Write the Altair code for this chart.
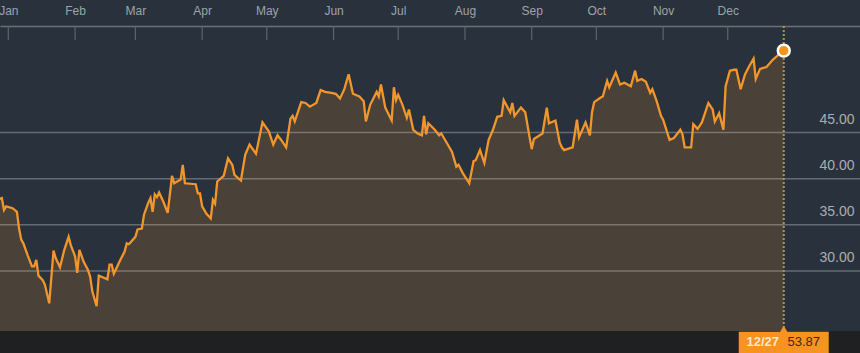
import altair as alt
import pandas as pd

# ---- data (day offset from 2019-01-01, closing value) ----
days = [-4, -3, -2, -1, 2, 4, 5, 6, 7, 9, 11, 12, 13, 14, 16, 17, 19, 21, 22, 24,
        26, 28, 29, 31, 32, 33, 35, 37, 38, 39, 41, 42, 43, 46, 47, 48, 49, 52, 54, 55,
        56, 59, 60, 62, 63, 65, 66, 67, 68, 69, 70, 72, 74, 76, 77, 80, 81, 82, 87, 88,
        89, 90, 92, 94, 95, 96, 97, 100, 102, 104, 105, 108, 110, 112, 115, 118, 121, 123, 125, 127,
        129, 131, 132, 133, 136, 138, 140, 143, 145, 147, 150, 152, 154, 156, 158, 160, 163, 165, 166, 168,
        171, 172, 173, 175, 178, 179, 180, 181, 183, 185, 186, 188, 190, 192, 193, 194, 195, 198, 200, 201,
        204, 206, 208, 209, 211, 214, 216, 217, 219, 221, 223, 225, 227, 229, 230, 233, 234, 235, 238, 240,
        242, 243, 244, 248, 250, 251, 254, 256, 257, 258, 262, 264, 265, 268, 270, 271, 272, 275, 276, 278,
        279, 282, 284, 286, 289, 291, 292, 294, 296, 298, 299, 301, 303, 304, 307, 309, 312, 313, 314, 317,
        318, 320, 322, 325, 327, 328, 330, 332, 333, 335, 337, 338, 340, 342, 344, 346, 347, 349, 352, 355,
        357, 360]
values = [37.8, 37.9, 36.6, 37.0, 36.8, 36.4, 34.6, 33.4, 33.0, 31.7, 30.5, 30.5, 31.2, 29.5, 29.0, 28.5, 26.5, 32.2, 31.4, 30.4,
          32.3, 33.7, 32.8, 31.6, 29.8, 32.3, 31.0, 30.1, 29.4, 27.8, 26.2, 29.5, 29.4, 29.1, 30.7, 30.7, 29.7, 31.2, 32.1, 33.0,
          32.9, 33.7, 34.5, 34.6, 36.1, 37.4, 37.9, 36.4, 38.3, 38.0, 38.5, 37.5, 36.3, 40.3, 39.5, 39.9, 41.5, 39.5, 39.4, 38.4,
          38.4, 37.0, 36.2, 35.7, 37.7, 37.3, 39.7, 40.3, 42.2, 41.5, 40.4, 39.8, 42.6, 43.7, 42.7, 46.1, 45.1, 43.7, 44.7, 44.1,
          43.4, 46.5, 46.8, 46.2, 48.3, 48.2, 47.8, 48.2, 49.6, 49.4, 49.3, 49.2, 48.7, 49.7, 51.3, 49.2, 48.9, 48.4, 46.2, 48.0,
          49.4, 48.9, 50.2, 47.7, 46.3, 49.9, 48.5, 49.1, 48.0, 46.6, 47.5, 45.3, 44.9, 44.7, 46.8, 44.8, 46.0, 45.3, 44.7, 44.9,
          43.7, 42.9, 41.3, 41.5, 40.6, 39.5, 41.9, 42.0, 43.1, 41.7, 44.2, 45.3, 46.7, 46.8, 48.5, 47.2, 48.2, 46.8, 47.7, 47.2,
          44.5, 43.2, 44.3, 44.9, 47.7, 46.0, 46.3, 43.9, 43.4, 43.1, 43.4, 46.4, 44.5, 46.1, 44.7, 47.2, 48.3, 48.8, 48.9, 50.6,
          49.9, 51.5, 50.2, 50.4, 50.0, 51.7, 50.6, 50.8, 50.5, 49.3, 49.7, 48.4, 46.8, 46.4, 44.2, 44.4, 45.3, 44.8, 43.4, 43.4,
          45.9, 45.4, 46.1, 48.2, 47.5, 46.2, 47.1, 45.3, 50.0, 51.7, 51.8, 51.8, 49.7, 51.3, 52.2, 53.0, 50.8, 51.9, 52.1, 52.9,
          53.3, 53.87]
month_numbers = list(range(1, 13))
y_ticks = [30, 35, 40, 45]

base = pd.Timestamp("2019-01-01")
df = pd.DataFrame({"date": base + pd.to_timedelta(days, unit="D"), "value": values})
last = df.tail(1)
months = pd.DataFrame({"date": [pd.Timestamp(2019, m, 1) for m in month_numbers]})
grid = pd.DataFrame({"value": y_ticks})

W, H = 860, 305
FONT = "Liberation Sans"

x_scale = alt.Scale(domain=[alt.DateTime(year=2018, month=12, date=28, hours=3, minutes=32),
                            alt.DateTime(year=2020, month=1, date=31, hours=9, minutes=36)],
                    padding=0)
y_scale = alt.Scale(domain=[23.5, 56.54], zero=False, nice=False)

x_axis = alt.Axis(orient="top", values=[alt.DateTime(year=2019, month=m, date=1) for m in month_numbers],
                  format="%b", grid=False, ticks=False, domain=True, domainColor="#6b7078",
                  domainWidth=1.5, labelColor="#9ea3a9", labelFont=FONT, labelFontSize=12,
                  labelPadding=9, labelAlign="center", title=None, labelFlush=False)
y_axis = alt.Axis(orient="right", values=y_ticks, format=".2f", grid=False, ticks=False, domain=False,
                  labelColor="#a9adb2", labelFont=FONT, labelFontSize=14, labelAlign="right",
                  labelBaseline="alphabetic", labelOffset=-9, labelPadding=-6, title=None)

X = alt.X("date:T", scale=x_scale, axis=x_axis)
Y = alt.Y("value:Q", scale=y_scale, axis=y_axis)

area = alt.Chart(df).mark_area(color="#4a4139", clip=True).encode(
    x=X, y=Y, y2=alt.value(H),
)

gridlines = alt.Chart(grid).mark_rule(color="white", opacity=0.28, strokeWidth=1.5).encode(
    y=Y, x=alt.value(0), x2=alt.value(W)
)

month_ticks = alt.Chart(months).mark_rule(color="#5d646d", strokeWidth=1.2).encode(
    x=X, y=alt.value(0), y2=alt.value(14)
)

strip = alt.Chart(last).mark_rect(color="#1f2021", clip=False).encode(
    x=alt.value(0), x2=alt.value(W), y=alt.value(H), y2=alt.value(H + 22)
)

vline = alt.Chart(last).mark_rule(color="#b8903f", strokeWidth=2, strokeDash=[2, 2]).encode(
    x=X, y=alt.value(0), y2=alt.value(H)
)

line = alt.Chart(df).mark_line(color="#f2962c", strokeWidth=2.3, clip=True).encode(
    x=X, y=Y
)

dot = alt.Chart(last).mark_point(filled=True, fill="#f7931e", stroke="white", strokeWidth=2.5,
                                 size=140, opacity=1).encode(
    x=X, y=Y
)

box = alt.Chart(last).mark_bar(color="#f7931e", width=90, clip=False).encode(
    x=X, y=alt.value(H + 0.7), y2=alt.value(H + 22)
)
pointer = alt.Chart(last).mark_point(shape="triangle-up", filled=True, color="#f7931e",
                                     size=60, opacity=1).encode(
    x=X, y=alt.value(H - 2)
)
date_text = alt.Chart(last).mark_text(font=FONT, fontSize=13, fontWeight="bold", color="#fde7cc",
                                      dx=-21, baseline="middle").encode(
    x=X, y=alt.value(H + 11),
    text=alt.Text("date:T", format="%m/%d"),
)
val_text = alt.Chart(last).mark_text(font=FONT, fontSize=13, color="#3b2a17",
                                     dx=20, baseline="middle").encode(
    x=X, y=alt.value(H + 11),
    text=alt.Text("value:Q", format=".2f"),
)

chart = alt.layer(area, gridlines, month_ticks, strip, vline, line, dot, box, pointer,
                  date_text, val_text).properties(
    width=W, height=H,
    autosize=alt.AutoSizeParams(type="none"),
    padding={"top": 26, "bottom": 22, "left": 0, "right": 0},
    background="#29323c",
).configure_view(stroke=None)

chart.save("out.html", embed_options={"renderer": "svg", "actions": False})
